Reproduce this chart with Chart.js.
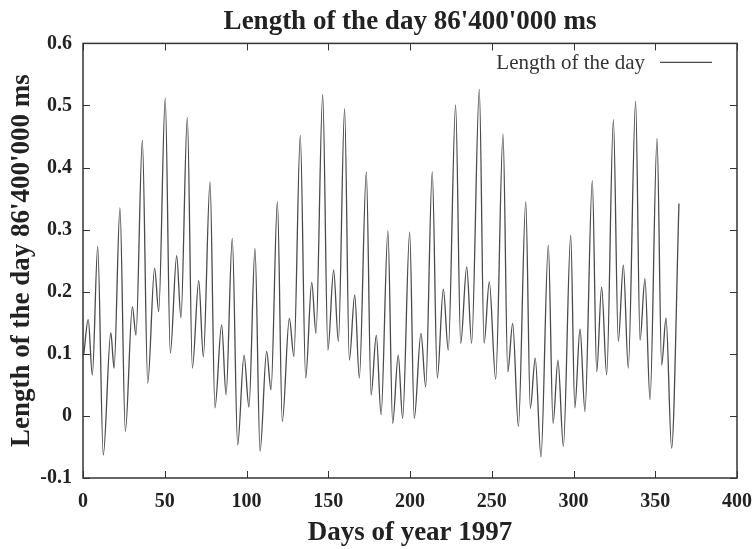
<!DOCTYPE html>
<html lang="en">
<head>
<meta charset="UTF-8">
<title>Length of the day 86'400'000 ms</title>
<script src="https://cdn.jsdelivr.net/npm/chart.js"></script>
<style>
  html, body { margin: 0; padding: 0; background: #fff; }
  #wrap { width: 752px; height: 549px; }
</style>
</head>
<body>
<div id="wrap"><canvas id="chart"></canvas></div>
<script>
// turning points of the curve (day of year -> ms above 86'400'000)
const days = [
  0.5, 3.2, 5.7, 9.0, 12.4, 17.0, 19.0, 22.6, 25.9, 30.2, 32.4, 36.3, 39.6, 43.8, 46.3,
  50.3, 53.4, 57.3, 59.9, 63.8, 66.9, 70.8, 73.6, 77.7, 80.7, 84.8, 87.5, 91.3, 94.6,
  98.5, 101.5, 105.2, 108.3, 112.3, 115.0, 118.9, 121.9, 126.2, 129.0, 132.9, 136.2,
  139.9, 142.5, 146.6, 149.8, 153.3, 156.2, 160.0, 162.9, 166.2, 169.0, 173.3, 176.2,
  179.4, 182.3, 186.5, 189.4, 192.8, 195.5, 199.8, 202.6, 206.7, 209.6, 213.6, 216.7,
  220.4, 223.4, 227.9, 231.0, 234.7, 237.7, 242.4, 245.3, 248.5, 252.4, 256.9, 259.8,
  262.8, 266.3, 270.8, 273.6, 276.6, 280.1, 284.6, 287.5, 290.5, 293.8, 298.3, 300.8,
  304.0, 307.0, 311.5, 314.2, 317.2, 320.3, 324.4, 327.4, 330.5, 333.5, 338.0, 340.7,
  343.7, 346.8, 351.1, 353.9, 356.6, 360.0, 364.5
];
const lod = [
  0.100, 0.155, 0.066, 0.273, -0.063, 0.134, 0.077, 0.335, -0.025, 0.176, 0.130, 0.444, 0.053, 0.238, 0.168,
  0.512, 0.101, 0.258, 0.158, 0.481, 0.077, 0.218, 0.095, 0.377, 0.013, 0.147, 0.034, 0.286, -0.047,
  0.098, 0.014, 0.270, -0.057, 0.104, 0.042, 0.345, -0.009, 0.157, 0.096, 0.452, 0.061,
  0.215, 0.133, 0.518, 0.106, 0.235, 0.120, 0.495, 0.090, 0.195, 0.061, 0.393, 0.034,
  0.130, 0.002, 0.298, -0.012, 0.098, -0.004, 0.296, -0.004, 0.133, 0.047, 0.393, 0.061,
  0.204, 0.106, 0.501, 0.117, 0.240, 0.117, 0.526, 0.117, 0.216, 0.059, 0.454, 0.071,
  0.149, -0.017, 0.345, 0.012, 0.093, -0.066, 0.275, -0.012, 0.090, -0.049, 0.291, 0.013,
  0.140, 0.007, 0.379, 0.071, 0.208, 0.066, 0.477, 0.120, 0.243, 0.077, 0.507, 0.122,
  0.221, 0.026, 0.447, 0.082, 0.158, -0.052, 0.342
];

const xTicks = [0, 50, 100, 150, 200, 250, 300, 350, 400];
const yTicks = [-0.1, 0, 0.1, 0.2, 0.3, 0.4, 0.5, 0.6];
const yTickLabels = ['-0.1', '0', '0.1', '0.2', '0.3', '0.4', '0.5', '0.6'];

const serif = "'Liberation Serif', 'DejaVu Serif', serif";

// gnuplot style box with inward ticks on all four sides, and the key
const frame = {
  id: 'frame',
  afterDraw(chart) {
    const { ctx, chartArea: a, scales } = chart;
    ctx.save();
    ctx.strokeStyle = '#333';
    ctx.lineWidth = 1;
    ctx.beginPath();
    scales.x.ticks.forEach(t => {
      const px = Math.round(scales.x.getPixelForValue(t.value)) + 0.5;
      ctx.moveTo(px, a.bottom); ctx.lineTo(px, a.bottom - 7);
      ctx.moveTo(px, a.top); ctx.lineTo(px, a.top + 7);
    });
    scales.y.ticks.forEach(t => {
      const py = Math.round(scales.y.getPixelForValue(t.value)) + 0.5;
      ctx.moveTo(a.left, py); ctx.lineTo(a.left + 7, py);
      ctx.moveTo(a.right, py); ctx.lineTo(a.right - 7, py);
    });
    ctx.stroke();
    ctx.lineWidth = 1.5;
    ctx.strokeRect(a.left, a.top, a.right - a.left, a.bottom - a.top);

    // key, top right inside the box
    const ds = chart.data.datasets[0];
    const ky = a.top + 19;
    ctx.font = '21px ' + serif;
    ctx.fillStyle = '#333';
    ctx.textAlign = 'right';
    ctx.textBaseline = 'middle';
    ctx.fillText(ds.label, a.right - 92, ky + 1);
    ctx.strokeStyle = ds.borderColor;
    ctx.lineWidth = 1.2;
    ctx.beginPath();
    ctx.moveTo(a.right - 77, ky);
    ctx.lineTo(a.right - 25, ky);
    ctx.stroke();
    ctx.restore();
  }
};

new Chart(document.getElementById('chart'), {
  type: 'line',
  data: {
    labels: days,
    datasets: [{
      label: 'Length of the day',
      data: days.map((d, i) => ({ x: d, y: lod[i] })),
      borderColor: '#4a4a4a',
      borderWidth: 1.3,
      pointRadius: 0,
      cubicInterpolationMode: 'monotone',
      fill: false
    }]
  },
  options: {
    responsive: true,
    maintainAspectRatio: false,
    animation: false,
    devicePixelRatio: 1,
    layout: { padding: 0 },
    plugins: {
      legend: { display: false },
      tooltip: { enabled: false },
      title: {
        display: true,
        fullSize: false,
        text: "Length of the day 86'400'000 ms",
        color: '#222',
        font: { family: serif, size: 27, weight: 'bold' },
        padding: { top: 6, bottom: 5 }
      }
    },
    scales: {
      x: {
        type: 'linear',
        min: 0,
        max: 400,
        afterBuildTicks: s => { s.ticks = xTicks.map(v => ({ value: v })); },
        afterFit: s => { s.height = 71; s.paddingLeft = 0; s.paddingRight = 15; },
        grid: { display: false, drawTicks: false },
        border: { display: false },
        ticks: {
          color: '#222',
          font: { family: serif, size: 20, weight: 'bold' },
          padding: 12,
          maxRotation: 0,
          autoSkip: false
        },
        title: {
          display: true,
          text: 'Days of year 1997',
          color: '#222',
          font: { family: serif, size: 27, weight: 'bold' },
          padding: { top: 0, bottom: 0 }
        }
      },
      y: {
        min: -0.1,
        max: 0.6,
        afterBuildTicks: s => { s.ticks = yTicks.map(v => ({ value: v })); },
        afterFit: s => { s.width = 83; },
        grid: { display: false, drawTicks: false },
        border: { display: false },
        ticks: {
          color: '#222',
          font: { family: serif, size: 20, weight: 'bold' },
          padding: 11,
          callback: (v, i) => yTickLabels[i]
        },
        title: {
          display: true,
          text: "Length of the day 86'400'000 ms",
          color: '#222',
          font: { family: serif, size: 27, weight: 'bold' },
          padding: { top: 6, bottom: 0 }
        }
      }
    }
  },
  plugins: [frame]
});
</script>
</body>
</html>
